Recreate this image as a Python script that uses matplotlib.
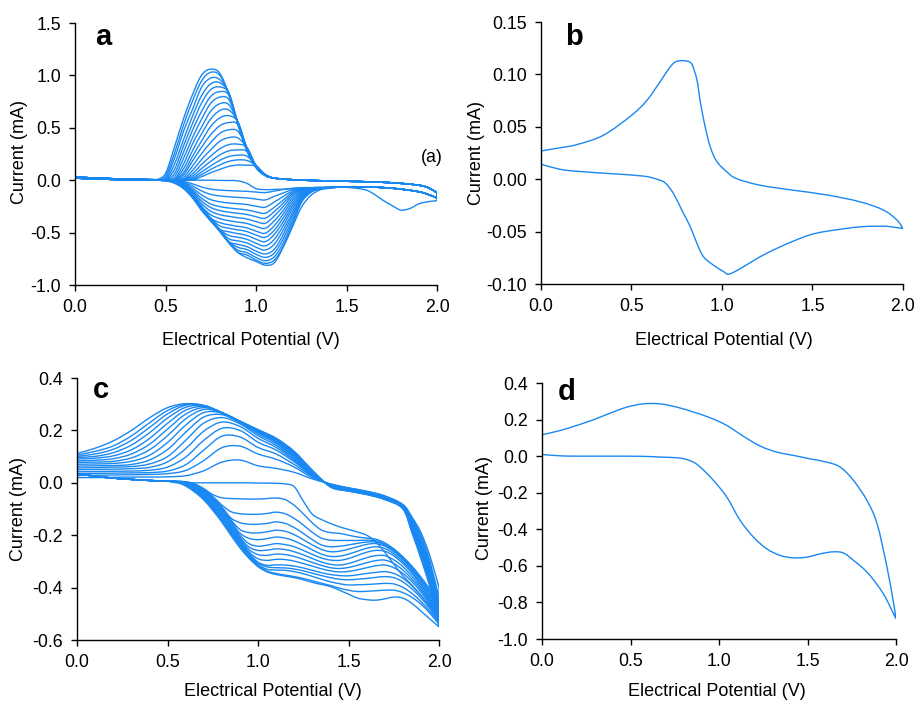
import matplotlib
matplotlib.use("Agg")
import matplotlib.pyplot as plt
from matplotlib.path import Path
from matplotlib.patches import PathPatch
from matplotlib.ticker import FormatStrFormatter

plt.rcParams['font.family'] = ['Liberation Sans', 'DejaVu Sans']
plt.rcParams['axes.unicode_minus'] = False

BLUE = '#1a88f2'

# ---------------- panel a : 18 cycles ----------------
a_up_head_v = [0.0, 0.1, 0.2, 0.3, 0.4]
a_up_head_i = [0.03, 0.022, 0.015, 0.01, 0.006]
a_up_v = [0.45, 0.5, 0.55, 0.6, 0.65, 0.7, 0.75, 0.8, 0.85, 0.9, 0.95, 1.0, 1.05, 1.1]
a_up_i = [
    [0.005, 0.005, 0.005, 0.005, 0.005, 0.034, 0.072, 0.103, 0.132, 0.145, 0.143, 0.134, 0.056, 0.02],
    [0.005, 0.005, 0.005, 0.005, 0.011, 0.055, 0.103, 0.146, 0.18, 0.194, 0.188, 0.142, 0.056, 0.02],
    [0.005, 0.005, 0.005, 0.005, 0.023, 0.08, 0.137, 0.19, 0.226, 0.239, 0.229, 0.141, 0.055, 0.02],
    [0.005, 0.005, 0.005, 0.005, 0.04, 0.112, 0.18, 0.242, 0.28, 0.289, 0.274, 0.14, 0.054, 0.02],
    [0.005, 0.005, 0.005, 0.005, 0.063, 0.153, 0.23, 0.30, 0.34, 0.344, 0.312, 0.138, 0.053, 0.02],
    [0.005, 0.005, 0.005, 0.012, 0.095, 0.2, 0.29, 0.372, 0.407, 0.403, 0.31, 0.137, 0.052, 0.02],
    [0.005, 0.005, 0.005, 0.028, 0.137, 0.255, 0.36, 0.447, 0.481, 0.467, 0.307, 0.136, 0.052, 0.02],
    [0.005, 0.005, 0.005, 0.052, 0.185, 0.317, 0.435, 0.52, 0.55, 0.53, 0.305, 0.134, 0.051, 0.02],
    [0.005, 0.005, 0.005, 0.074, 0.23, 0.377, 0.513, 0.596, 0.615, 0.557, 0.302, 0.132, 0.05, 0.02],
    [0.005, 0.005, 0.005, 0.11, 0.285, 0.445, 0.585, 0.665, 0.67, 0.555, 0.30, 0.131, 0.05, 0.02],
    [0.005, 0.005, 0.012, 0.155, 0.35, 0.51, 0.66, 0.73, 0.72, 0.551, 0.297, 0.13, 0.049, 0.02],
    [0.005, 0.005, 0.035, 0.21, 0.41, 0.585, 0.735, 0.793, 0.77, 0.548, 0.295, 0.128, 0.049, 0.02],
    [0.005, 0.005, 0.065, 0.27, 0.48, 0.66, 0.80, 0.845, 0.81, 0.545, 0.29, 0.127, 0.048, 0.02],
    [0.005, 0.005, 0.105, 0.33, 0.545, 0.74, 0.865, 0.89, 0.83, 0.545, 0.29, 0.126, 0.048, 0.02],
    [0.005, 0.005, 0.155, 0.39, 0.615, 0.81, 0.92, 0.93, 0.83, 0.54, 0.29, 0.125, 0.047, 0.02],
    [0.005, 0.02, 0.21, 0.47, 0.68, 0.89, 0.975, 0.96, 0.83, 0.54, 0.285, 0.123, 0.046, 0.02],
    [0.005, 0.04, 0.26, 0.53, 0.76, 0.95, 1.03, 1.0, 0.82, 0.535, 0.282, 0.121, 0.045, 0.02],
    [0.005, 0.065, 0.32, 0.59, 0.82, 1.005, 1.06, 1.02, 0.82, 0.53, 0.28, 0.12, 0.045, 0.02],
]
a_up_tail_v = [1.2, 1.3, 1.4, 1.5, 1.6, 1.7, 1.8, 1.9, 1.95, 2.0]
a_up_tail_i = [0.005, -0.002, -0.006, -0.01, -0.014, -0.02, -0.03, -0.048, -0.07, -0.12]

a_dn_head_v = [0.0, 0.1, 0.2, 0.3, 0.4, 0.45]
a_dn_head_i = [0.02, 0.013, 0.008, 0.005, 0.002, 0.001]
a_dn_v = [0.5, 0.55, 0.6, 0.65, 0.7, 0.75, 0.8, 0.85, 0.9, 0.95, 1.0, 1.05, 1.1, 1.15, 1.2,
          1.25, 1.3, 1.35, 1.4]
a_dn_i = [
    [0.0, 0.0, 0.0, 0.0, 0.0, 0.0, -0.002, -0.003, -0.006, -0.03, -0.08, -0.09, -0.088, -0.085, -0.08, -0.076, -0.072, -0.07, -0.068],
    [-0.002, -0.003, -0.012, -0.035, -0.065, -0.085, -0.094, -0.099, -0.103, -0.106, -0.113, -0.118, -0.104, -0.089, -0.077, -0.072, -0.07, -0.07, -0.07],
    [-0.002, -0.004, -0.019, -0.056, -0.103, -0.135, -0.15, -0.158, -0.164, -0.169, -0.18, -0.188, -0.155, -0.122, -0.09, -0.077, -0.072, -0.07, -0.07],
    [-0.002, -0.005, -0.026, -0.077, -0.142, -0.186, -0.206, -0.217, -0.224, -0.232, -0.248, -0.258, -0.209, -0.156, -0.104, -0.082, -0.073, -0.07, -0.07],
    [-0.002, -0.006, -0.032, -0.095, -0.173, -0.227, -0.252, -0.265, -0.274, -0.284, -0.302, -0.315, -0.259, -0.19, -0.118, -0.087, -0.075, -0.07, -0.07],
    [-0.002, -0.007, -0.036, -0.109, -0.2, -0.261, -0.29, -0.305, -0.316, -0.327, -0.348, -0.363, -0.301, -0.219, -0.132, -0.092, -0.076, -0.071, -0.07],
    [-0.002, -0.008, -0.041, -0.123, -0.226, -0.296, -0.329, -0.345, -0.358, -0.37, -0.395, -0.411, -0.343, -0.251, -0.15, -0.099, -0.079, -0.072, -0.07],
    [-0.002, -0.009, -0.046, -0.138, -0.252, -0.33, -0.367, -0.386, -0.40, -0.413, -0.441, -0.459, -0.389, -0.288, -0.173, -0.108, -0.082, -0.073, -0.07],
    [-0.002, -0.01, -0.051, -0.144, -0.255, -0.361, -0.405, -0.425, -0.44, -0.455, -0.486, -0.506, -0.436, -0.323, -0.196, -0.118, -0.085, -0.074, -0.07],
    [-0.002, -0.011, -0.055, -0.147, -0.259, -0.364, -0.436, -0.458, -0.474, -0.49, -0.523, -0.545, -0.479, -0.36, -0.222, -0.128, -0.089, -0.074, -0.07],
    [-0.002, -0.012, -0.059, -0.15, -0.263, -0.368, -0.468, -0.492, -0.51, -0.527, -0.563, -0.586, -0.519, -0.398, -0.248, -0.138, -0.093, -0.075, -0.07],
    [-0.002, -0.013, -0.063, -0.153, -0.267, -0.371, -0.471, -0.527, -0.545, -0.564, -0.602, -0.627, -0.566, -0.436, -0.275, -0.15, -0.097, -0.076, -0.07],
    [-0.002, -0.013, -0.067, -0.156, -0.271, -0.374, -0.474, -0.559, -0.579, -0.599, -0.639, -0.666, -0.612, -0.478, -0.308, -0.163, -0.102, -0.078, -0.071],
    [-0.002, -0.014, -0.07, -0.158, -0.275, -0.377, -0.477, -0.586, -0.612, -0.634, -0.676, -0.704, -0.66, -0.52, -0.336, -0.175, -0.106, -0.08, -0.072],
    [-0.002, -0.015, -0.074, -0.161, -0.278, -0.38, -0.48, -0.589, -0.64, -0.662, -0.707, -0.736, -0.696, -0.56, -0.37, -0.19, -0.111, -0.081, -0.073],
    [-0.003, -0.015, -0.077, -0.164, -0.282, -0.384, -0.484, -0.593, -0.668, -0.691, -0.737, -0.768, -0.733, -0.60, -0.402, -0.203, -0.116, -0.083, -0.074],
    [-0.004, -0.016, -0.078, -0.167, -0.286, -0.387, -0.487, -0.596, -0.687, -0.714, -0.761, -0.793, -0.764, -0.634, -0.432, -0.215, -0.121, -0.084, -0.075],
    [-0.005, -0.03, -0.08, -0.17, -0.29, -0.39, -0.49, -0.60, -0.69, -0.74, -0.775, -0.81, -0.79, -0.64, -0.45, -0.26, -0.15, -0.095, -0.078],
]
a_dn_tail_v = [1.5, 1.6, 1.7, 1.8, 1.9, 1.95, 2.0]
a_dn_tail_i = [-0.062, -0.064, -0.07, -0.085, -0.11, -0.135, -0.17]
# first cycle has its own peak near 1.8 V
a_first_tail_v = [1.5, 1.6, 1.65, 1.7, 1.75, 1.8, 1.85, 1.9, 1.95, 2.0]
a_first_tail_i = [-0.068, -0.09, -0.13, -0.19, -0.24, -0.285, -0.27, -0.225, -0.205, -0.195]

# ---------------- panel b ----------------
b_up_v = [0.0, 0.105, 0.197, 0.345, 0.5, 0.584, 0.658, 0.713, 0.75, 0.806, 0.833, 0.85, 0.865,
          0.879, 0.907, 0.935, 0.971, 1.027, 1.08, 1.21, 1.395, 1.58, 1.764, 1.893, 1.967, 2.0]
b_up_i = [0.027, 0.03, 0.033, 0.042, 0.061, 0.075, 0.093, 0.107, 0.1125, 0.1128, 0.11, 0.102,
          0.092, 0.075, 0.05, 0.031, 0.017, 0.007, 0.0006, -0.0057, -0.0105, -0.015, -0.0216,
          -0.0295, -0.039, -0.047]
b_dn_v = [2.0, 1.91, 1.764, 1.58, 1.487, 1.395, 1.303, 1.21, 1.119, 1.04, 1.008, 0.953, 0.898,
          0.861, 0.824, 0.778, 0.732, 0.686, 0.64, 0.566, 0.38, 0.197, 0.105, 0.0]
b_dn_i = [-0.047, -0.0448, -0.0454, -0.0496, -0.053, -0.059, -0.066, -0.074, -0.0835, -0.0905,
          -0.088, -0.082, -0.074, -0.061, -0.045, -0.0295, -0.0137, -0.0035, 0.0, 0.003, 0.0054,
          0.0076, 0.0095, 0.0143]

# ---------------- panel c : 15 cycles ----------------
c_up_v = [0.0, 0.1, 0.2, 0.3, 0.4, 0.5, 0.6, 0.7, 0.8, 0.9, 1.0, 1.1, 1.2, 1.3]
c_up_i = [
    [0.02, 0.02, 0.021, 0.022, 0.022, 0.023, 0.027, 0.046, 0.079, 0.087, 0.065, 0.055, 0.04, 0.015],
    [0.028, 0.029, 0.03, 0.031, 0.032, 0.035, 0.047, 0.085, 0.134, 0.14, 0.11, 0.09, 0.06, 0.02],
    [0.035, 0.036, 0.037, 0.038, 0.039, 0.045, 0.069, 0.125, 0.178, 0.175, 0.135, 0.11, 0.07, 0.025],
    [0.042, 0.043, 0.044, 0.045, 0.048, 0.06, 0.098, 0.162, 0.208, 0.2, 0.155, 0.125, 0.08, 0.028],
    [0.05, 0.051, 0.052, 0.054, 0.059, 0.08, 0.13, 0.197, 0.232, 0.215, 0.17, 0.135, 0.085, 0.03],
    [0.057, 0.058, 0.06, 0.062, 0.072, 0.1, 0.162, 0.228, 0.249, 0.225, 0.18, 0.143, 0.09, 0.032],
    [0.064, 0.065, 0.066, 0.07, 0.087, 0.127, 0.193, 0.251, 0.26, 0.23, 0.187, 0.15, 0.095, 0.034],
    [0.071, 0.072, 0.074, 0.082, 0.105, 0.154, 0.22, 0.268, 0.266, 0.232, 0.192, 0.155, 0.1, 0.036],
    [0.078, 0.079, 0.082, 0.095, 0.126, 0.18, 0.244, 0.28, 0.267, 0.233, 0.195, 0.158, 0.104, 0.038],
    [0.084, 0.086, 0.092, 0.11, 0.147, 0.205, 0.262, 0.287, 0.268, 0.234, 0.197, 0.161, 0.107, 0.04],
    [0.091, 0.094, 0.103, 0.126, 0.169, 0.227, 0.277, 0.291, 0.268, 0.234, 0.199, 0.164, 0.11, 0.042],
    [0.097, 0.101, 0.115, 0.144, 0.191, 0.247, 0.288, 0.294, 0.268, 0.235, 0.2, 0.166, 0.113, 0.044],
    [0.101, 0.11, 0.128, 0.162, 0.211, 0.263, 0.296, 0.295, 0.268, 0.235, 0.201, 0.168, 0.116, 0.045],
    [0.106, 0.12, 0.141, 0.179, 0.229, 0.276, 0.3, 0.296, 0.268, 0.235, 0.202, 0.169, 0.118, 0.047],
    [0.112, 0.132, 0.16, 0.2, 0.248, 0.287, 0.302, 0.294, 0.268, 0.235, 0.203, 0.17, 0.12, 0.048],
]
c_up_end_v = [1.4, 1.5, 1.6, 1.7, 1.8, 1.85, 1.9, 1.95, 2.0]
c_up_end_i = [
    [-0.004, -0.019, -0.032, -0.05, -0.083, -0.13, -0.19, -0.28, -0.40],
    [-0.005, -0.02, -0.033, -0.051, -0.084, -0.135, -0.2, -0.3, -0.44],
    [-0.006, -0.021, -0.034, -0.052, -0.085, -0.14, -0.21, -0.31, -0.46],
    [-0.006, -0.022, -0.035, -0.053, -0.086, -0.145, -0.22, -0.32, -0.47],
    [-0.007, -0.022, -0.036, -0.054, -0.087, -0.15, -0.23, -0.33, -0.48],
    [-0.008, -0.023, -0.037, -0.055, -0.088, -0.155, -0.235, -0.34, -0.49],
    [-0.009, -0.024, -0.038, -0.056, -0.089, -0.16, -0.24, -0.35, -0.5],
    [-0.01, -0.025, -0.039, -0.057, -0.09, -0.163, -0.245, -0.355, -0.505],
    [-0.01, -0.026, -0.04, -0.058, -0.091, -0.166, -0.25, -0.36, -0.51],
    [-0.011, -0.027, -0.041, -0.059, -0.092, -0.17, -0.255, -0.365, -0.515],
    [-0.012, -0.028, -0.042, -0.06, -0.093, -0.173, -0.26, -0.37, -0.52],
    [-0.013, -0.029, -0.042, -0.061, -0.094, -0.176, -0.265, -0.375, -0.525],
    [-0.014, -0.03, -0.043, -0.062, -0.095, -0.18, -0.27, -0.38, -0.53],
    [-0.015, -0.031, -0.044, -0.063, -0.097, -0.185, -0.28, -0.39, -0.54],
    [-0.016, -0.032, -0.045, -0.064, -0.1, -0.19, -0.29, -0.40, -0.55],
]
c_dn_head_v = [0.0, 0.1, 0.2, 0.3, 0.4, 0.5]
c_dn_head_i = [0.035, 0.025, 0.018, 0.013, 0.009, 0.006]
c_dn_v = [0.55, 0.6, 0.65, 0.7, 0.75, 0.8, 0.85, 0.9, 0.95, 1.0, 1.05, 1.1, 1.15, 1.2, 1.25,
          1.3, 1.35, 1.4, 1.45, 1.5, 1.55, 1.6, 1.65, 1.7, 1.75, 1.8, 1.85, 1.9, 1.95, 2.0]
c_dn_i = [
    [0.0, 0.0, 0.0, 0.0, 0.0, 0.0, 0.0, 0.0, 0.0, -0.001, -0.001, -0.002, -0.004, -0.015, -0.07, -0.12, -0.14, -0.155, -0.168, -0.178, -0.188, -0.2, -0.225, -0.265, -0.31, -0.355, -0.39, -0.43, -0.47, -0.5],
    [0.005, 0.004, -0.004, -0.022, -0.045, -0.057, -0.06, -0.061, -0.062, -0.062, -0.06, -0.058, -0.064, -0.086, -0.118, -0.153, -0.18, -0.19, -0.193, -0.2, -0.207, -0.211, -0.215, -0.229, -0.252, -0.282, -0.318, -0.36, -0.407, -0.46],
    [0.005, 0.004, -0.006, -0.025, -0.052, -0.085, -0.11, -0.118, -0.12, -0.12, -0.117, -0.112, -0.118, -0.136, -0.161, -0.189, -0.211, -0.219, -0.22, -0.22, -0.22, -0.219, -0.221, -0.234, -0.256, -0.286, -0.323, -0.366, -0.415, -0.47],
    [0.005, 0.003, -0.008, -0.028, -0.055, -0.092, -0.134, -0.152, -0.158, -0.158, -0.155, -0.149, -0.155, -0.171, -0.193, -0.217, -0.237, -0.244, -0.242, -0.237, -0.231, -0.226, -0.226, -0.237, -0.259, -0.289, -0.327, -0.372, -0.423, -0.48],
    [0.005, 0.003, -0.009, -0.03, -0.059, -0.097, -0.141, -0.178, -0.19, -0.191, -0.187, -0.181, -0.185, -0.198, -0.217, -0.237, -0.254, -0.263, -0.261, -0.253, -0.244, -0.235, -0.232, -0.242, -0.263, -0.293, -0.332, -0.377, -0.43, -0.49],
    [0.005, 0.002, -0.011, -0.033, -0.063, -0.102, -0.146, -0.192, -0.212, -0.217, -0.213, -0.207, -0.211, -0.222, -0.238, -0.256, -0.272, -0.281, -0.28, -0.272, -0.261, -0.25, -0.244, -0.251, -0.271, -0.301, -0.339, -0.386, -0.439, -0.5],
    [0.005, 0.002, -0.013, -0.036, -0.067, -0.107, -0.152, -0.2, -0.232, -0.242, -0.238, -0.232, -0.236, -0.244, -0.258, -0.273, -0.287, -0.295, -0.296, -0.289, -0.277, -0.265, -0.258, -0.261, -0.279, -0.308, -0.345, -0.391, -0.444, -0.505],
    [0.005, 0.0, -0.016, -0.04, -0.071, -0.112, -0.158, -0.208, -0.245, -0.258, -0.257, -0.252, -0.255, -0.263, -0.275, -0.289, -0.302, -0.311, -0.314, -0.308, -0.297, -0.286, -0.278, -0.278, -0.294, -0.32, -0.356, -0.4, -0.452, -0.51],
    [0.005, -0.002, -0.018, -0.043, -0.076, -0.118, -0.164, -0.213, -0.255, -0.274, -0.277, -0.272, -0.274, -0.281, -0.292, -0.304, -0.315, -0.324, -0.327, -0.323, -0.315, -0.305, -0.297, -0.295, -0.308, -0.333, -0.367, -0.408, -0.458, -0.515],
    [0.004, -0.004, -0.021, -0.047, -0.081, -0.123, -0.17, -0.219, -0.264, -0.29, -0.296, -0.292, -0.293, -0.299, -0.308, -0.318, -0.328, -0.336, -0.34, -0.338, -0.332, -0.324, -0.317, -0.314, -0.324, -0.346, -0.377, -0.417, -0.465, -0.52],
    [0.004, -0.005, -0.024, -0.051, -0.086, -0.128, -0.176, -0.225, -0.269, -0.303, -0.315, -0.313, -0.314, -0.318, -0.325, -0.334, -0.343, -0.35, -0.354, -0.355, -0.351, -0.346, -0.342, -0.339, -0.346, -0.364, -0.393, -0.43, -0.474, -0.525],
    [0.004, -0.007, -0.027, -0.054, -0.091, -0.134, -0.182, -0.231, -0.274, -0.306, -0.321, -0.324, -0.325, -0.329, -0.336, -0.345, -0.354, -0.362, -0.368, -0.37, -0.368, -0.365, -0.361, -0.358, -0.362, -0.378, -0.405, -0.439, -0.481, -0.53],
    [0.003, -0.009, -0.03, -0.058, -0.095, -0.139, -0.188, -0.236, -0.278, -0.312, -0.33, -0.333, -0.334, -0.339, -0.347, -0.357, -0.368, -0.378, -0.385, -0.39, -0.389, -0.388, -0.386, -0.384, -0.386, -0.399, -0.422, -0.453, -0.491, -0.535],
    [0.003, -0.01, -0.032, -0.061, -0.1, -0.145, -0.194, -0.242, -0.283, -0.316, -0.337, -0.346, -0.352, -0.358, -0.365, -0.374, -0.383, -0.392, -0.402, -0.41, -0.415, -0.414, -0.412, -0.41, -0.41, -0.419, -0.437, -0.463, -0.498, -0.54],
    [0.002, -0.012, -0.035, -0.065, -0.105, -0.15, -0.2, -0.248, -0.288, -0.32, -0.34, -0.35, -0.356, -0.362, -0.37, -0.38, -0.388, -0.396, -0.41, -0.425, -0.44, -0.446, -0.448, -0.443, -0.436, -0.44, -0.46, -0.49, -0.52, -0.55],
]

# ---------------- panel d ----------------
d_up_v = [0.0, 0.102, 0.196, 0.29, 0.385, 0.479, 0.573, 0.667, 0.762, 0.856, 0.95, 1.044, 1.139,
          1.233, 1.327, 1.421, 1.516, 1.61, 1.685, 1.76, 1.836, 1.893, 1.949, 1.987, 2.0]
d_up_i = [0.117, 0.14, 0.168, 0.199, 0.235, 0.268, 0.286, 0.286, 0.268, 0.241, 0.21, 0.168, 0.108,
          0.055, 0.022, 0.004, -0.015, -0.033, -0.06, -0.133, -0.243, -0.37, -0.607, -0.808, -0.89]
d_dn_v = [2.0, 1.95, 1.91, 1.836, 1.76, 1.704, 1.647, 1.572, 1.497, 1.421, 1.346, 1.27, 1.195, 1.12,
          1.044, 0.969, 0.9, 0.856, 0.8, 0.75, 0.667, 0.573, 0.4, 0.2, 0.1, 0.0]
d_dn_i = [-0.89, -0.79, -0.725, -0.634, -0.57, -0.53, -0.523, -0.534, -0.552, -0.556, -0.543,
          -0.507, -0.443, -0.352, -0.224, -0.133, -0.065, -0.033, -0.014, -0.008, -0.005, -0.001,
          0.0, 0.0, 0.002, 0.009]


def smooth_branch(v, i, verts, codes):
    # smoothed line through every point (like a spreadsheet "smoothed line")
    pts = list(zip(v, i))
    verts.append(pts[0])
    codes.append(Path.LINETO if verts[:-1] else Path.MOVETO)
    n = len(pts)
    for j in range(n - 1):
        p0 = pts[j - 1] if j > 0 else pts[j]
        p1, p2 = pts[j], pts[j + 1]
        p3 = pts[j + 2] if j + 2 < n else p2
        c1 = (p1[0] + (p2[0] - p0[0]) / 6, p1[1] + (p2[1] - p0[1]) / 6)
        c2 = (p2[0] - (p3[0] - p1[0]) / 6, p2[1] - (p3[1] - p1[1]) / 6)
        verts.extend([c1, c2, p2])
        codes.extend([Path.CURVE4] * 3)


def draw_loop(ax, up_v, up_i, dn_v, dn_i):
    verts, codes = [], []
    smooth_branch(up_v, up_i, verts, codes)
    smooth_branch(dn_v, dn_i, verts, codes)
    ax.add_patch(PathPatch(Path(verts, codes), fill=False, edgecolor=BLUE, lw=1.0))


def style(ax, ylim, yticks, yfmt, letter, lpos, xlab, ylab):
    ax.set_xlim(0, 2)
    ax.set_ylim(*ylim)
    ax.set_xticks([0, 0.5, 1.0, 1.5, 2.0])
    ax.set_yticks(yticks)
    ax.xaxis.set_major_formatter(FormatStrFormatter('%.1f'))
    ax.yaxis.set_major_formatter(FormatStrFormatter(yfmt))
    for s in ['top', 'right']:
        ax.spines[s].set_visible(False)
    for s in ['left', 'bottom']:
        ax.spines[s].set_linewidth(1.0)
    ax.tick_params(direction='out', length=4, width=1, labelsize=12.8, pad=6)
    ax.set_xlabel('Electrical Potential (V)', fontsize=13)
    ax.set_ylabel('Current (mA)', fontsize=13)
    ax.xaxis.set_label_coords(*xlab)
    ax.yaxis.set_label_coords(*ylab)
    ax.text(lpos[0], lpos[1], letter, transform=ax.transAxes, fontsize=21,
            fontweight='bold', va='baseline', ha='left')


fig = plt.figure(figsize=(9.16, 7.02), dpi=100)
ax_a = fig.add_axes([0.0819, 0.5940, 0.3952, 0.3732])
ax_b = fig.add_axes([0.5906, 0.5954, 0.3952, 0.3732])
ax_c = fig.add_axes([0.0841, 0.0883, 0.3952, 0.3732])
ax_d = fig.add_axes([0.5917, 0.0897, 0.3865, 0.3647])

# a
for k in range(len(a_up_i)):
    if k == 0:
        tv, ti = a_first_tail_v, a_first_tail_i
    else:
        tv, ti = a_dn_tail_v, a_dn_tail_i
    up_v = a_up_head_v + a_up_v + a_up_tail_v
    up_i = a_up_head_i + a_up_i[k] + a_up_tail_i
    dn_v = tv[::-1] + a_dn_v[::-1] + a_dn_head_v[::-1]
    dn_i = ti[::-1] + a_dn_i[k][::-1] + a_dn_head_i[::-1]
    draw_loop(ax_a, up_v, up_i, dn_v, dn_i)
style(ax_a, (-1.0, 1.5), [-1.0, -0.5, 0.0, 0.5, 1.0, 1.5], '%.1f', 'a', (0.055, 0.916),
      (0.486, -0.179), (-0.129, 0.507))
ax_a.text(1.017, 0.487, '(a)', transform=ax_a.transAxes, ha='right', va='center', fontsize=12.8)

# b
draw_loop(ax_b, b_up_v, b_up_i, b_dn_v[1:], b_dn_i[1:])
style(ax_b, (-0.10, 0.15), [-0.10, -0.05, 0.0, 0.05, 0.10, 0.15], '%.2f', 'b', (0.066, 0.912),
      (0.504, -0.183), (-0.155, 0.5))

# c
for k in range(len(c_up_i)):
    up_v = c_up_v + c_up_end_v
    up_i = c_up_i[k] + c_up_end_i[k]
    dn_v = c_dn_v[::-1] + c_dn_head_v[::-1]
    dn_i = c_dn_i[k][::-1] + c_dn_head_i[::-1]
    draw_loop(ax_c, up_v, up_i, dn_v, dn_i)
style(ax_c, (-0.6, 0.4), [-0.6, -0.4, -0.2, 0.0, 0.2, 0.4], '%.1f', 'c', (0.044, 0.924),
      (0.541, -0.164), (-0.139, 0.5))

# d
draw_loop(ax_d, d_up_v, d_up_i, d_dn_v[1:], d_dn_i[1:])
style(ax_d, (-1.0, 0.4), [-1.0, -0.8, -0.6, -0.4, -0.2, 0.0, 0.2, 0.4], '%.1f', 'd',
      (0.044, 0.934), (0.4935, -0.172), (-0.138, 0.51))

fig.savefig('out.png', dpi=100)
